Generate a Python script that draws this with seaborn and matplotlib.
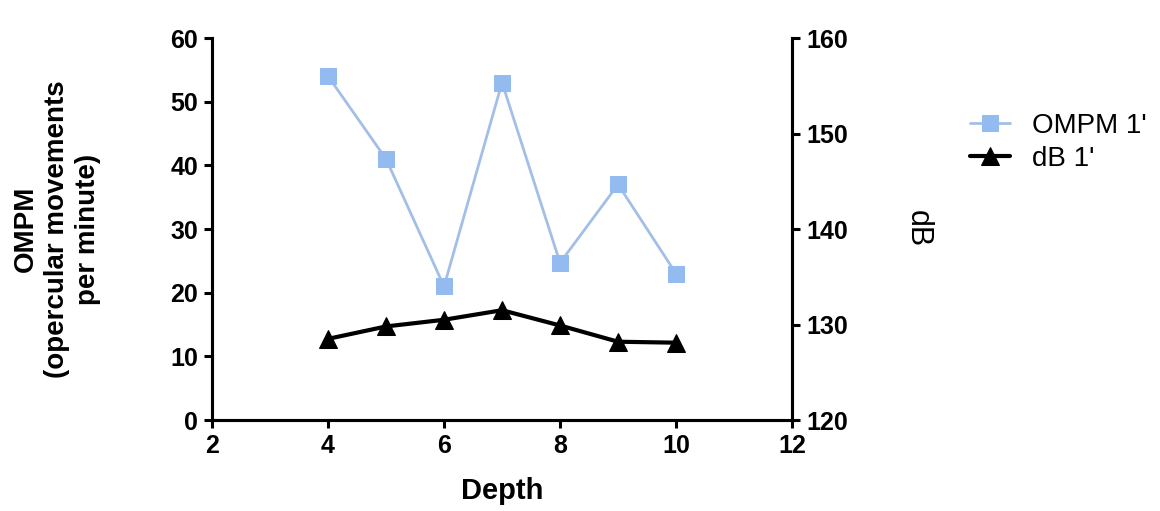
import seaborn as sns
import matplotlib.pyplot as plt
import pandas as pd

depth = [4, 5, 6, 7, 8, 9, 10]
ompm_1 = [54, 41, 21, 53, 24.7, 37, 23]
db_1 = [128.5, 129.8, 130.5, 131.5, 129.9, 128.2, 128.1]

x_ticks = [2, 4, 6, 8, 10, 12]
left_ticks = [0, 10, 20, 30, 40, 50, 60]
right_ticks = [120, 130, 140, 150, 160]

df = pd.DataFrame({"Depth": depth, "OMPM": ompm_1, "dB": db_1})

sns.set_style("ticks")
plt.rcParams['font.family'] = ['Liberation Sans', 'DejaVu Sans']
plt.rcParams['text.color'] = 'black'
plt.rcParams['axes.labelcolor'] = 'black'
plt.rcParams['xtick.color'] = 'black'
plt.rcParams['ytick.color'] = 'black'
plt.rcParams['axes.edgecolor'] = 'black'

fig = plt.figure(figsize=(11.6, 5.11), dpi=100)
ax = fig.add_axes([0.1828, 0.178, 0.5, 0.7476])
ax2 = ax.twinx()

blue = "#93bbf0"
sns.lineplot(data=df, x="Depth", y="OMPM", ax=ax, color="#a3bfe8", lw=2,
             marker="s", markersize=12, markerfacecolor=blue, markeredgecolor=blue,
             label="OMPM 1'", legend=False)
sns.lineplot(data=df, x="Depth", y="dB", ax=ax2, color="black", lw=3,
             marker="^", markersize=13, markerfacecolor="black", markeredgecolor="black",
             label="dB 1'", legend=False)

ax.set_xlim(2, 12)
ax.set_ylim(0, 60)
ax2.set_ylim(120, 160)
ax.set_xticks(x_ticks)
ax.set_yticks(left_ticks)
ax2.set_yticks(right_ticks)

for a in (ax, ax2):
    for s in a.spines.values():
        s.set_linewidth(2.2)
    a.spines['top'].set_visible(False)
    a.tick_params(width=2.2, length=6, labelsize=18, direction='out', pad=4)
    for lab in a.get_xticklabels() + a.get_yticklabels():
        lab.set_fontweight('bold')

ax.set_xlabel("Depth", fontsize=21, fontweight='bold', labelpad=14)
ax.set_ylabel("OMPM\n(opercular movements\nper minute)", fontsize=20,
              fontweight='bold', linespacing=1.25, labelpad=50)
ax2.set_ylabel("dB", fontsize=22, rotation=270, labelpad=40, va='bottom')

h1, l1 = ax.get_legend_handles_labels()
h2, l2 = ax2.get_legend_handles_labels()
fig.legend(h1 + h2, l1 + l2, loc='upper left',
           bbox_to_anchor=(970 / 1160, 1 - 113 / 511),
           frameon=False, borderpad=0, borderaxespad=0,
           handlelength=1.45, handletextpad=0.8, labelspacing=0.26,
           prop={'family': ['Liberation Sans'], 'size': 20})

fig.savefig("out.png", dpi=100)
